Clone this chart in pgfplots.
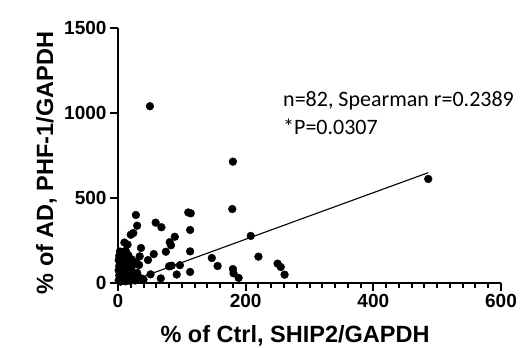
\documentclass[border=0pt]{standalone}
\usepackage{fontspec}
\setmainfont{Liberation Sans}
\newfontfamily\calibri{Carlito}
\usepackage{pgfplots}
\pgfplotsset{compat=1.18}
\newcommand{\tkfont}{\fontsize{19bp}{21bp}\selectfont\bfseries}
\begin{document}
\begin{tikzpicture}
\begin{axis}[
  at={(118bp,65bp)}, anchor=south west,
  scale only axis, width=383bp, height=255bp,
  xmin=0, xmax=600, ymin=0, ymax=1500,
  axis lines=left,
  axis line style={-, line width=2.3bp, black},
  xtick={0,200,400,600}, ytick={0,500,1000,1500},
  xticklabels={0,200,400,600},
  yticklabels={0,500,1000,1500},
  tick label style={font=\tkfont},
  minor x tick num=9,
  tick align=outside,
  major tick length=8bp, minor tick length=5bp,
  every tick/.style={black, line width=2bp},
  clip=false,
]
\addplot[only marks, mark=*, mark size=3.9bp, black] coordinates {
(50,1040)(180,714)(179,435)(208,277)(110,415)(114,410)(113,312)(113,186)
(113,65)(147,147)(156,100)(180,82)(181,57)(189,30)(220,155)(250,114)
(255,94)(261,49)(486,612)(59,355)(68,328)(28,400)(30,337)(24,294)
(20,284)(10,238)(15,226)(36,206)(81,240)(83,222)(89,272)(75,184)
(56,170)(47,135)(80,98)(84,102)(97,105)(92,50)(67,27)(51,51)
(36,28)(34,157)(33,106)(28,125)(25,40)(27,15)
(3,185)(7,180)(2,160)(6,150)(1,135)(4,120)(8,130)(2,100)
(5,90)(9,105)(1,75)(4,65)(8,70)(2,45)(6,35)(10,50)
(1,15)(4,8)(8,20)(12,10)(15,30)(13,85)(17,60)(20,95)
(22,70)(18,120)(21,140)(16,165)(12,190)(19,12)(23,25)(14,140)
(11,115)(25,110)(30,60)(40,20)
};
\addplot[black, line width=1.1bp] coordinates {(12,0)(486,649)};
\end{axis}
\node[anchor=base, font=\fontsize{23.5bp}{26bp}\selectfont\bfseries] at (295bp,6bp) {\% of Ctrl, SHIP2/GAPDH};
\node[anchor=base, rotate=90, font=\fontsize{23.5bp}{26bp}\selectfont\bfseries] at (53bp,185bp) {\% of AD, PHF-1/GAPDH};
\node[anchor=base west, inner sep=0pt, font=\fontsize{22bp}{26bp}\selectfont\calibri] at (283bp,241bp) {n=82, Spearman r=0.2389};
\node[anchor=base west, inner sep=0pt, font=\fontsize{22bp}{26bp}\selectfont\calibri] at (283bp,213bp) {*P=0.0307};
\pgfresetboundingbox
\path[use as bounding box] (0,0) rectangle (526bp,348bp);
\end{tikzpicture}
\end{document}
